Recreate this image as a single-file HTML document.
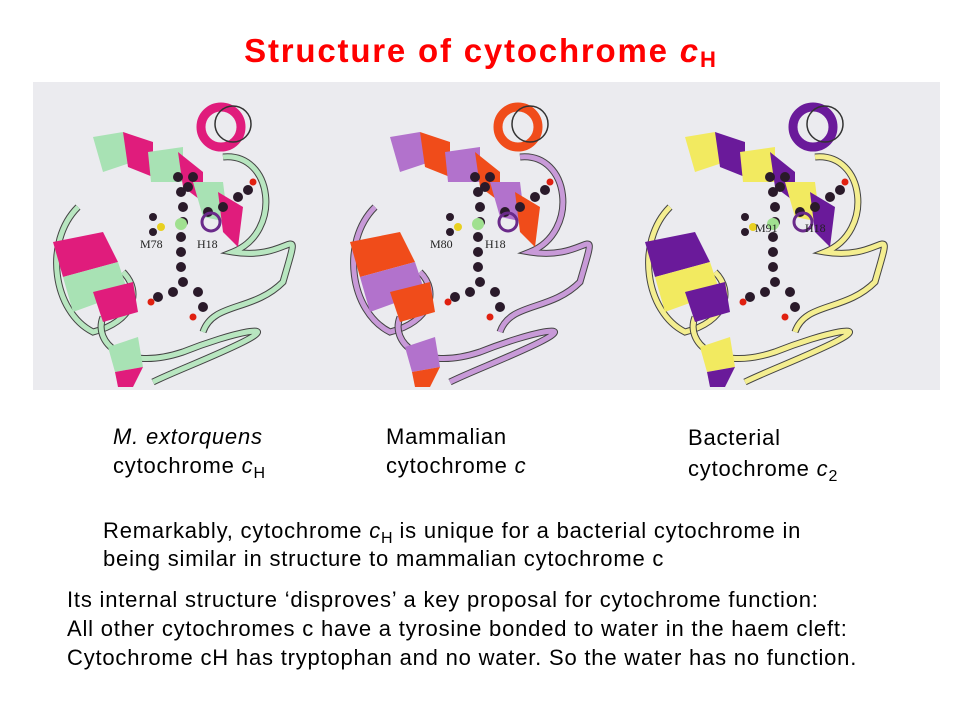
<!DOCTYPE html>
<html><head><style>
body{margin:0;width:960px;height:720px;background:#fff;font-family:"Liberation Sans",Arial,sans-serif;position:relative;overflow:hidden}
.t{position:absolute;white-space:nowrap;color:#000;font-size:22px;letter-spacing:0.8px}
sub{font-size:16px;vertical-align:-5px;line-height:0;letter-spacing:0}
</style></head><body>
<div class="t" style="left:0;width:960px;text-align:center;top:32px;color:#f00;font-weight:bold;font-size:33px;letter-spacing:1.8px">Structure of cytochrome <i>c</i><sub style="font-size:22px">H</sub></div>
<svg style="position:absolute;left:0;top:0" width="960" height="720">
<defs>
<g id="prot">
 <path d="M45,125 C10,160 20,230 60,250 C100,240 110,210 90,190" fill="none" stroke="#444" stroke-width="7"/>
 <path d="M45,125 C10,160 20,230 60,250 C100,240 110,210 90,190" fill="none" stroke="var(--t)" stroke-width="5"/>
 <path d="M70,235 C60,260 90,290 150,270 C200,250 250,240 210,260 C180,275 140,290 120,300" fill="none" stroke="#444" stroke-width="7"/>
 <path d="M70,235 C60,260 90,290 150,270 C200,250 250,240 210,260 C180,275 140,290 120,300" fill="none" stroke="var(--t)" stroke-width="5"/>
 <path d="M190,75 C240,70 250,150 200,170 C260,180 270,130 250,200 C220,230 180,220 170,250" fill="none" stroke="#444" stroke-width="7"/>
 <path d="M190,75 C240,70 250,150 200,170 C260,180 270,130 250,200 C220,230 180,220 170,250" fill="none" stroke="var(--t)" stroke-width="5"/>
 <path d="M20,160 L70,150 L85,180 L30,195Z" fill="var(--a)"/>
 <path d="M30,195 L85,180 L95,210 L40,230Z" fill="var(--b)"/>
 <path d="M60,210 L100,200 L105,230 L70,240Z" fill="var(--a)"/>
 <path d="M60,55 L90,50 L100,80 L70,90Z" fill="var(--b)"/>
 <path d="M90,50 L120,60 L120,95 L95,85Z" fill="var(--a)"/>
 <path d="M115,70 L150,65 L150,100 L118,100Z" fill="var(--b)"/>
 <path d="M145,70 L170,90 L170,120 L150,105Z" fill="var(--a)"/>
 <path d="M160,100 L190,100 L195,140 L170,135Z" fill="var(--b)"/>
 <path d="M185,110 L210,125 L205,165 L190,150Z" fill="var(--a)"/>
 <circle cx="188" cy="45" r="20" fill="none" stroke="var(--a)" stroke-width="9"/>
 <circle cx="200" cy="42" r="18" fill="none" stroke="#333" stroke-width="1.5"/>
 <path d="M75,265 L105,255 L110,285 L82,290Z" fill="var(--b)"/>
 <path d="M82,290 L110,285 L100,305 L85,305Z" fill="var(--a)"/>
 <g fill="#2a1a2a">
  <circle cx="145" cy="95" r="5"/><circle cx="148" cy="110" r="5"/><circle cx="150" cy="125" r="5"/><circle cx="150" cy="140" r="5"/><circle cx="148" cy="155" r="5"/><circle cx="148" cy="170" r="5"/><circle cx="148" cy="185" r="5"/><circle cx="150" cy="200" r="5"/><circle cx="140" cy="210" r="5"/><circle cx="125" cy="215" r="5"/><circle cx="165" cy="210" r="5"/><circle cx="170" cy="225" r="5"/><circle cx="155" cy="105" r="5"/><circle cx="160" cy="95" r="5"/>
  <circle cx="120" cy="135" r="4"/><circle cx="120" cy="150" r="4"/>
  <circle cx="175" cy="130" r="5"/><circle cx="190" cy="125" r="5"/><circle cx="205" cy="115" r="5"/><circle cx="215" cy="108" r="5"/>
 </g>
 <circle cx="178" cy="140" r="9" fill="none" stroke="#6a2a8a" stroke-width="3"/>
 <circle cx="128" cy="145" r="4" fill="#e8d020"/>
 <circle cx="148" cy="142" r="6" fill="#a0e090"/>
 <circle cx="118" cy="220" r="3.5" fill="#e02010"/><circle cx="160" cy="235" r="3.5" fill="#e02010"/><circle cx="220" cy="100" r="3.5" fill="#e02010"/>
</g>
</defs>
<rect x="33" y="82" width="907" height="308" fill="#ebebef"/>
<use href="#prot" x="33" y="82" style="--a:#e01c7c;--b:#a8e2b4;--t:#b8e6c0"/>
<use href="#prot" x="330" y="82" style="--a:#f04c1a;--b:#b272cc;--t:#c89ad8"/>
<use href="#prot" x="625" y="82" style="--a:#6a1a9a;--b:#f2ea60;--t:#f4ee90"/>
<g font-family="Liberation Serif,serif" font-size="12" fill="#222">
<text x="140" y="248">M78</text><text x="197" y="248">H18</text>
<text x="430" y="248">M80</text><text x="485" y="248">H18</text>
<text x="755" y="232">M91</text><text x="805" y="232">H18</text>
</g>
</svg>
<div class="t" style="left:113px;top:422px;line-height:29px"><i>M. extorquens</i><br>cytochrome <i>c</i><sub>H</sub></div>
<div class="t" style="left:386px;top:422px;line-height:29px">Mammalian<br>cytochrome <i>c</i></div>
<div class="t" style="left:688px;top:422px;line-height:31px">Bacterial<br>cytochrome <i>c</i><sub>2</sub></div>
<div class="t" style="left:103px;top:517px;line-height:28px">Remarkably, cytochrome <i>c</i><sub>H</sub> is unique for a bacterial cytochrome in<br>being similar in structure to mammalian cytochrome c</div>
<div class="t" style="left:67px;top:585px;line-height:29px">Its internal structure ‘disproves’ a key proposal for cytochrome function:<br>All other cytochromes c have a tyrosine bonded to water in the haem cleft:<br>Cytochrome cH has tryptophan and no water. So the water has no function.</div>
</body></html>
